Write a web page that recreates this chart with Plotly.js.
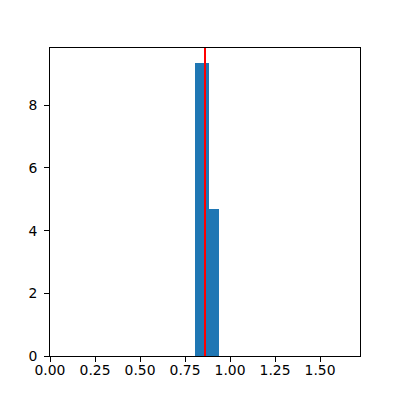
<!DOCTYPE html>
<html>
<head>
<meta charset="utf-8">
<script src="https://cdn.plot.ly/plotly-3.0.1.min.js"></script>
<style>
    html, body { margin: 0; padding: 0; background: #fff; }
    #plot { width: 400px; height: 400px; }
</style>
</head>
<body>
<div id="plot"></div>
<script>
// histogram bins (density) and the mean marker
const binEdges = [0.806, 0.882, 0.940];
const densities = [9.36, 4.70];
const meanValue = 0.861;
const xTicks = [0, 0.25, 0.5, 0.75, 1.0, 1.25, 1.5];
const yTicks = [0, 2, 4, 6, 8];

let centers = [];
let widths = [];
for (let i = 0; i < densities.length; i++) {
    centers.push((binEdges[i] + binEdges[i + 1]) / 2);
    widths.push(binEdges[i + 1] - binEdges[i]);
}

let trace = {
    type: 'bar',
    x: centers,
    y: densities,
    width: widths,
    marker: {color: '#1f77b4', line: {width: 0}},
    hoverinfo: 'skip',
};

let axisStyle = {
    showline: true,
    linecolor: '#000',
    linewidth: 1,
    mirror: true,
    showgrid: false,
    zeroline: false,
    ticks: 'outside',
    ticklen: 5,
    tickwidth: 1,
    tickcolor: '#000',
};

let layout = {
    width: 400,
    height: 400,
    margin: {l: 50, r: 40, t: 48, b: 44},
    paper_bgcolor: '#fff',
    plot_bgcolor: '#fff',
    font: {family: 'DejaVu Sans', size: 13.9, color: '#000'},
    showlegend: false,
    bargap: 0,
    xaxis: Object.assign({}, axisStyle, {
        range: [0, 2 * meanValue],
        tickvals: xTicks,
        ticktext: xTicks.map(v => v.toFixed(2)),
        ticklabelstandoff: -4,
    }),
    yaxis: Object.assign({}, axisStyle, {
        range: [0, densities[0] * 1.05],
        tickvals: yTicks,
        ticktext: yTicks.map(String),
        ticklabelstandoff: 4,
    }),
    shapes: [{
        type: 'line',
        xref: 'x',
        yref: 'paper',
        x0: meanValue,
        x1: meanValue,
        y0: 0,
        y1: 1,
        line: {color: 'red', width: 2},
        layer: 'above',
    }],
};

Plotly.newPlot('plot', [trace], layout, {displayModeBar: false, staticPlot: true});
</script>
</body>
</html>
